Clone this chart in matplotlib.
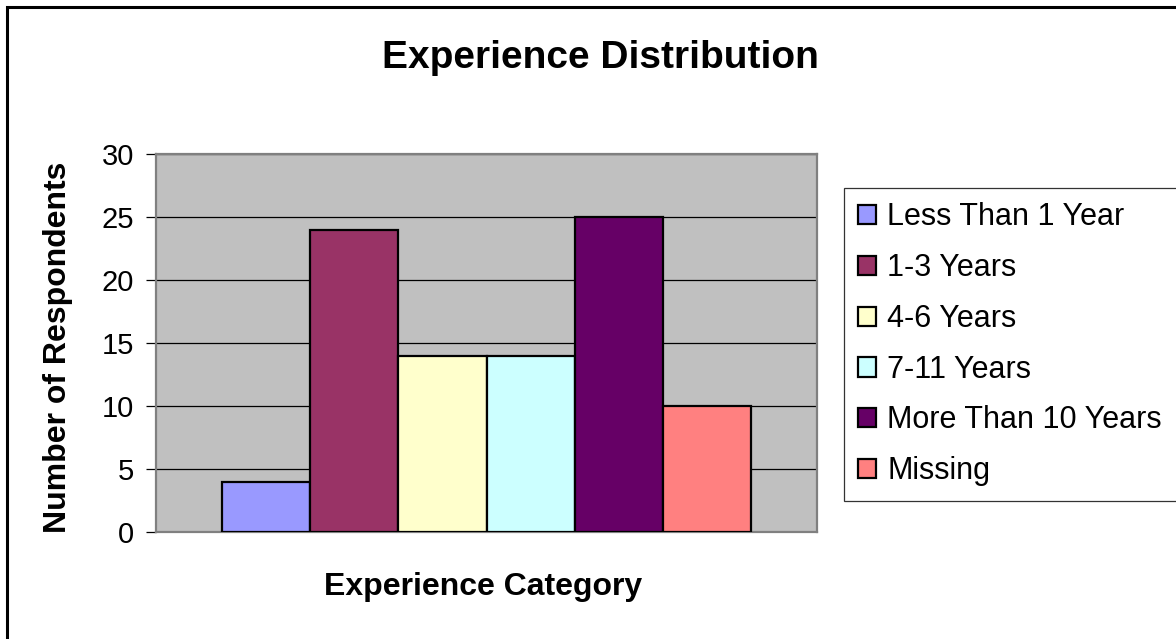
import numpy as np
import matplotlib
matplotlib.use("Agg")
import matplotlib.pyplot as plt
from matplotlib.patches import Rectangle

plt.rcParams['font.family'] = ['Liberation Sans', 'DejaVu Sans']

# data
categories = ["Less Than 1 Year", "1-3 Years", "4-6 Years", "7-11 Years",
              "More Than 10 Years", "Missing"]
respondents = [4, 24, 14, 14, 25, 10]
colors = ["#9999FF", "#993366", "#FFFFCC", "#CCFFFF", "#660066", "#FF8080"]
y_ticks = [0, 5, 10, 15, 20, 25, 30]

W, H = 1176, 639
fig = plt.figure(figsize=(W / 100, H / 100), dpi=100)
fig.patch.set_facecolor("white")

# outer chart frame (runs off the right/bottom edge like the original)
fig.add_artist(Rectangle((7 / W, -0.05), 1.2, 1 - 7 / H + 0.05,
                         transform=fig.transFigure, fill=False,
                         edgecolor="black", linewidth=2.2))

ax = fig.add_axes([156 / W, (H - 532) / H, (817 - 156) / W, (532 - 154) / H])
ax.set_facecolor("#C0C0C0")

n = len(respondents)
xpos = np.arange(n) - (n - 1) / 2
for x, v, c, lab in zip(xpos, respondents, colors, categories):
    ax.bar(x, v, width=1.0, color=c, edgecolor="black", linewidth=1.6,
           label=lab, zorder=3)

ax.set_xlim(-3.745, 3.745)
ax.set_ylim(0, 30)
ax.set_yticks(y_ticks)
ax.set_xticks([])
ax.yaxis.grid(True, color="black", linewidth=0.9, zorder=0)
ax.set_axisbelow(True)
for s in ax.spines.values():
    s.set_color("#808080")
    s.set_linewidth(1.6)
ax.tick_params(axis="y", direction="out", length=7, width=0.9,
               color="black", labelsize=21, pad=9)

ax.set_ylabel("Number of Respondents", fontsize=23, fontweight="bold")
ax.yaxis.set_label_coords(-0.126, 0.488)
ax.set_xlabel("Experience Category", fontsize=23, fontweight="bold")
ax.xaxis.label.set_va("baseline")
ax.xaxis.set_label_coords(0.4955, -0.1667)

fig.text(600 / W, 1 - 68 / H, "Experience Distribution", fontsize=28,
         fontweight="bold", ha="center", va="baseline")

leg_h = 0.1
leg = fig.legend(loc="upper left",
                 bbox_to_anchor=(844 / W, 1 - 188 / H - leg_h, 0.3, leg_h),
                 mode="expand", fontsize=22, frameon=True, fancybox=False,
                 borderaxespad=0, borderpad=0.47, handlelength=0.59,
                 handleheight=0.59, handletextpad=0.36, labelspacing=0.68)
leg.get_frame().set_edgecolor("black")
leg.get_frame().set_linewidth(0.9)

fig.savefig("out.png", dpi=100)
